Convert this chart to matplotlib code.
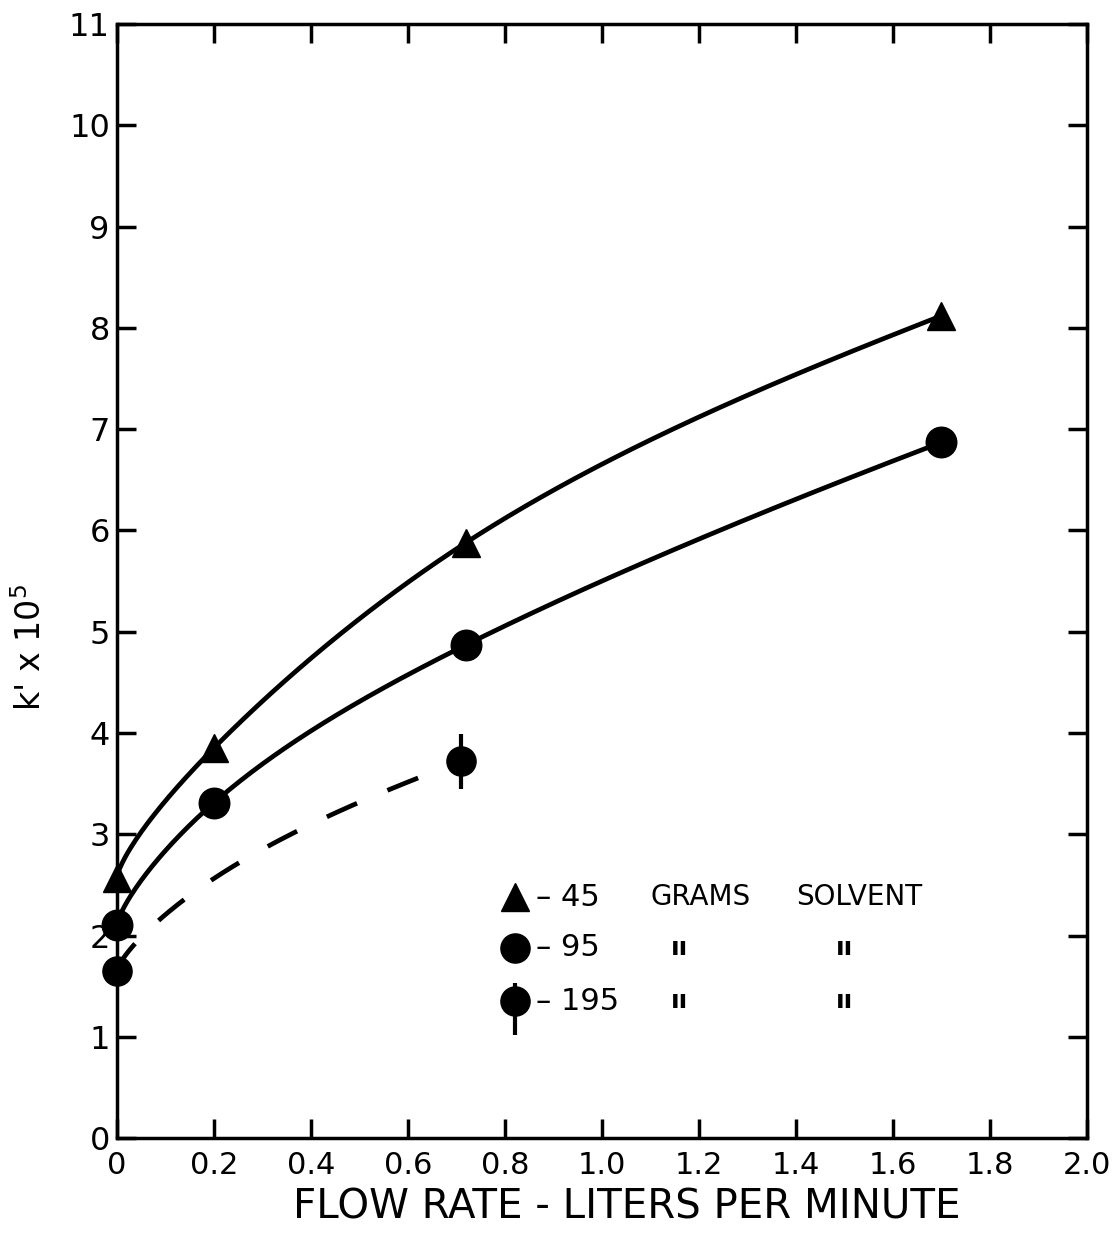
import numpy as np
import matplotlib
matplotlib.use("Agg")
import matplotlib.pyplot as plt

# values
x45 = [0.0, 0.2, 0.72, 1.70]
y45 = [2.57, 3.85, 5.88, 8.12]
x95 = [0.0, 0.2, 0.72, 1.70]
y95 = [2.10, 3.31, 4.87, 6.87]
x195 = [0.0, 0.71]
y195 = [1.65, 3.72]
err195 = [0.0, 0.27]

xticks = [0, 0.2, 0.4, 0.6, 0.8, 1.0, 1.2, 1.4, 1.6, 1.8, 2.0]
xticklabels = ["0", "0.2", "0.4", "0.6", "0.8", "1.0", "1.2", "1.4", "1.6", "1.8", "2.0"]
yticks = list(range(12))

legend_rows = [("^", "– 45", "GRAMS", "SOLVENT"),
               ("o", "– 95", "ıı", "ıı"),
               ("o", "– 195", "ıı", "ıı")]

FONT = "DejaVu Sans"
INK = "black"
P = 0.75  # curves are drawn as a natural spline in x**P


def spline(x, y, xs):
    # natural cubic spline in t = x**P, like a french curve through the points
    x = np.asarray(x, float) ** P; y = np.asarray(y, float); xs = np.asarray(xs) ** P
    n = len(x); h = np.diff(x)
    A = np.zeros((n, n)); r = np.zeros(n)
    A[0, 0] = A[-1, -1] = 1
    for i in range(1, n - 1):
        A[i, i - 1] = h[i - 1]; A[i, i] = 2 * (h[i - 1] + h[i]); A[i, i + 1] = h[i]
        r[i] = 6 * ((y[i + 1] - y[i]) / h[i] - (y[i] - y[i - 1]) / h[i - 1])
    M = np.linalg.solve(A, r)
    k = np.clip(np.searchsorted(x, xs) - 1, 0, n - 2)
    a = x[k + 1] - xs; b = xs - x[k]; hk = h[k]
    return (M[k] * a**3 + M[k + 1] * b**3) / (6 * hk) + \
        (y[k] / hk - M[k] * hk / 6) * a + (y[k + 1] / hk - M[k + 1] * hk / 6) * b


fig = plt.figure(figsize=(11.12, 12.39), dpi=100)
ax = fig.add_axes([0.105, 0.0815, 0.8725, 0.899])

xs = np.linspace(0, x45[-1], 300)
ax.plot(xs, spline(x45, y45, xs), color=INK, lw=3.4)
xs = np.linspace(0, x95[-1], 300)
ax.plot(xs, spline(x95, y95, xs), color=INK, lw=3.4)

# dashed 195 g curve drawn with the same shape as the 95 g curve
xs = np.linspace(x195[0], x195[-1], 200)
g = spline(x95, y95, xs)
g = (g - g[0]) / (g[-1] - g[0])
ax.plot(xs, y195[0] + (y195[-1] - y195[0]) * g, color=INK, lw=3.4, dashes=(7, 7))

ax.plot(x45, y45, "^", color=INK, ms=20, clip_on=False, zorder=5)
ax.plot(x95, y95, "o", color=INK, ms=22, clip_on=False, zorder=5)
ax.errorbar(x195, y195, yerr=err195, fmt="o", color=INK, ms=21, elinewidth=3,
            capsize=0, clip_on=False, zorder=5)

# hand-lettered key
key_y = [2.38, 1.88, 1.35]
for (m, num, w1, w2), yk in zip(legend_rows, key_y):
    ax.plot([0.82], [yk], m, color=INK, ms=20 if m == "^" else 21, zorder=5)
    ax.text(0.865, yk, num, fontsize=22, family=FONT, va="center", ha="left")
    if w1 == "GRAMS":
        ax.text(1.10, yk, w1, fontsize=20, family=FONT, va="center", ha="left")
        ax.text(1.40, yk, w2, fontsize=20, family=FONT, va="center", ha="left")
    else:
        ax.text(1.16, yk, w1, fontsize=18, family=FONT, va="center", ha="center", fontweight="bold")
        ax.text(1.50, yk, w2, fontsize=18, family=FONT, va="center", ha="center", fontweight="bold")
ax.errorbar([0.82], [key_y[2]], yerr=[[0.33], [0.18]], fmt="none", ecolor=INK,
            elinewidth=3, capsize=0)

ax.set_xlim(0, 2.0)
ax.set_ylim(0, 11)
ax.set_xticks(xticks)
ax.set_xticklabels(xticklabels, fontsize=22, family=FONT)
ax.set_yticks(yticks)
ax.set_yticklabels([str(v) for v in yticks], fontsize=23, family=FONT)
ax.tick_params(direction="in", length=14, width=2.5, top=True, right=True, pad=5)
ax.tick_params(axis="x", pad=9)
for s in ax.spines.values():
    s.set_linewidth(2.5)

ax.set_xlabel("FLOW RATE - LITERS PER MINUTE", fontsize=29, family=FONT)
ax.xaxis.set_label_coords(0.526, -0.044)
ax.set_ylabel("k' x 10$^5$", fontsize=24, family=FONT)
ax.yaxis.set_label_coords(-0.071, 0.44)

fig.savefig("out.png", dpi=100, facecolor="white")
